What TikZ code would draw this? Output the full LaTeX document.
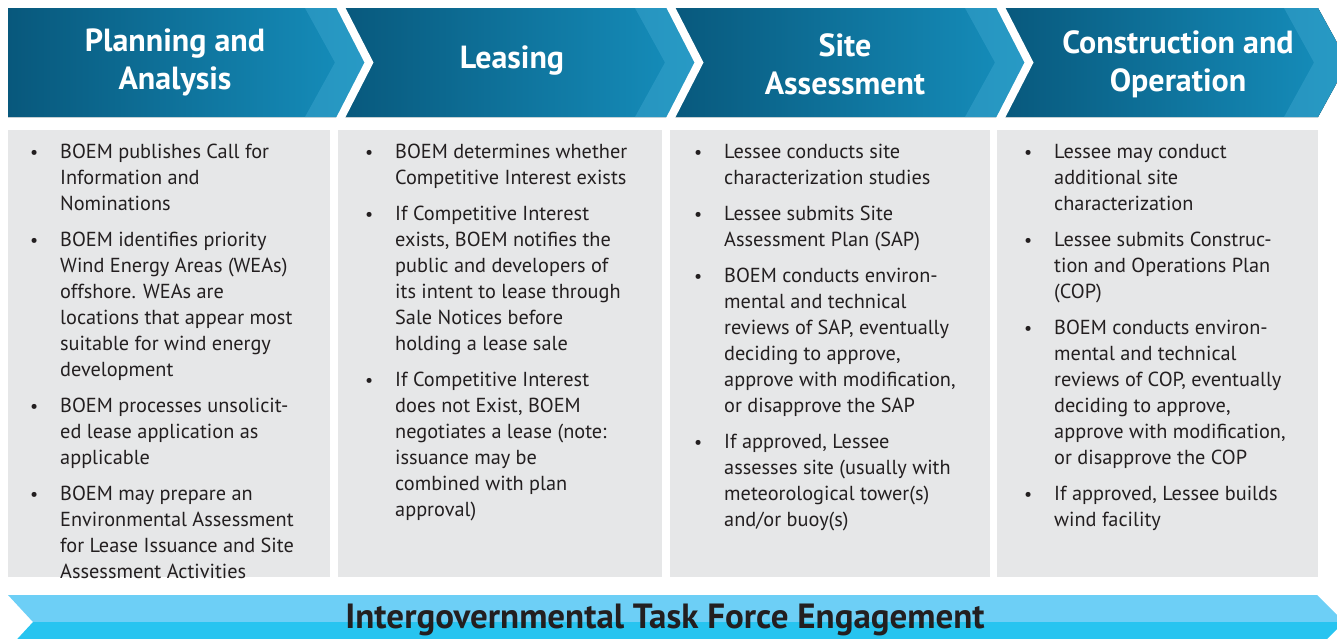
\documentclass[tikz,border=0pt]{standalone}
\usepackage{fontspec}
\setmainfont{PT Sans}

% colours of the process banner
\definecolor{hdark}{HTML}{08587C}
\definecolor{hlight}{HTML}{1690BE}
\definecolor{hstripe}{HTML}{3FA8D0}
\definecolor{boxgray}{HTML}{E6E7E8}
\definecolor{txt}{HTML}{231F20}
\definecolor{bandtop}{HTML}{6DCFF6}
\definecolor{bandbot}{HTML}{27C4F0}

% one bullet item; lines are broken by hand with \\
\newcommand\bitem[1]{\par\noindent\llap{\makebox[30pt][l]{\fontsize{18}{18}\selectfont •}}#1\par\vspace{10pt}}

\tikzset{
  seg/.style={left color=hdark, right color=hlight, draw=none},
  stripe/.style={fill=hstripe, fill opacity=0.45, draw=none},
  gap/.style={draw=white, line width=8pt, line join=miter},
  graybox/.style={fill=boxgray, draw=none},
  head/.style={text=white, font=\bfseries\fontsize{32}{38}\selectfont, align=center, inner sep=0pt},
  body/.style={text=txt, anchor=base west, inner sep=0pt, font=\fontsize{20.3}{26}\selectfont},
  bandtext/.style={text=txt, font=\bfseries\fontsize{35}{35}\selectfont, inner sep=0pt}
}

\newcommand\colbody[1]{\parbox[t]{275pt}{\leftskip=27pt\parindent=0pt\baselineskip=26pt #1}}

\begin{document}
\begin{tikzpicture}[x=1pt,y=-1pt]
\useasboundingbox (0,0) rectangle (1337,638);

% phase banner: four chevron segments
\fill[seg] (8,8) -- (8,117) -- (339,117) -- (369,62.5) -- (339,8) -- cycle;
\fill[seg] (339,8) -- (369,62.5) -- (339,117) -- (669,117) -- (699,62.5) -- (669,8) -- cycle;
\fill[seg] (669,8) -- (699,62.5) -- (669,117) -- (999,117) -- (1029,62.5) -- (999,8) -- cycle;
\fill[seg] (999,8) -- (1029,62.5) -- (999,117) -- (1318,117) -- (1348,62.5) -- (1318,8) -- cycle;

% lighter bands ahead of each chevron
\foreach \xr in {339,669,999,1318}{
  \fill[stripe] (\xr-34,8) -- (\xr-4,62.5) -- (\xr-34,117) -- (\xr,117) -- (\xr+30,62.5) -- (\xr,8) -- cycle;
}

% white separators between phases
\foreach \xr in {339,669,999}{
  \draw[gap] (\xr,4) -- (\xr+30,62.5) -- (\xr,121);
}

% phase titles
\node[head] (h1) at (175,62) {Planning and\\Analysis};
\node[head] (h2) at (512,61) {Leasing};
\node[head] (h3) at (845,64) {Site\\Assessment};
\node[head] (h4) at (1178,64) {Construction and\\Operation};

% detail boxes
\fill[graybox] (8,130) rectangle (330,577);
\fill[graybox] (338,130) rectangle (662,577);
\fill[graybox] (670,130) rectangle (990,577);
\fill[graybox] (997,130) rectangle (1318,577);

\node[body] (c1) at (33,158) {\colbody{%
\bitem{BOEM publishes Call for\\Information and\\Nominations}
\bitem{BOEM identifies priority\\Wind Energy Areas (WEAs)\\offshore. WEAs are\\locations that appear most\\suitable for wind energy\\development}
\bitem{BOEM processes unsolicit-\\ed lease application as\\applicable}
\bitem{BOEM may prepare an\\Environmental Assessment\\for Lease Issuance and Site\\Assessment Activities}}};

\node[body] (c2) at (368,158) {\colbody{%
\bitem{BOEM determines whether\\Competitive Interest exists}
\bitem{If Competitive Interest\\exists, BOEM notifies the\\public and developers of\\its intent to lease through\\Sale Notices before\\holding a lease sale}
\bitem{If Competitive Interest\\does not Exist, BOEM\\negotiates a lease (note:\\issuance may be\\combined with plan\\approval)}}};

\node[body] (c3) at (697,158) {\colbody{%
\bitem{Lessee conducts site\\characterization studies}
\bitem{Lessee submits Site\\Assessment Plan (SAP)}
\bitem{BOEM conducts environ-\\mental and technical\\reviews of SAP, eventually\\deciding to approve,\\approve with modification,\\or disapprove the SAP}
\bitem{If approved, Lessee\\assesses site (usually with\\meteorological tower(s)\\and/or buoy(s)}}};

\node[body] (c4) at (1027,158) {\colbody{%
\bitem{Lessee may conduct\\additional site\\characterization}
\bitem{Lessee submits Construc-\\tion and Operations Plan\\(COP)}
\bitem{BOEM conducts environ-\\mental and technical\\reviews of COP, eventually\\deciding to approve,\\approve with modification,\\or disapprove the COP}
\bitem{If approved, Lessee builds\\wind facility}}};

% task force band along the bottom
\fill[bandtop] (8,595) -- (1317,595) -- (1344,622) -- (33,622) -- cycle;
\fill[bandbot] (33,622) -- (1344,622) -- (1317,649) -- (8,649) -- cycle;
\node[bandtext] (tf) at (665,620) {Intergovernmental Task Force Engagement};
\end{tikzpicture}
\end{document}
